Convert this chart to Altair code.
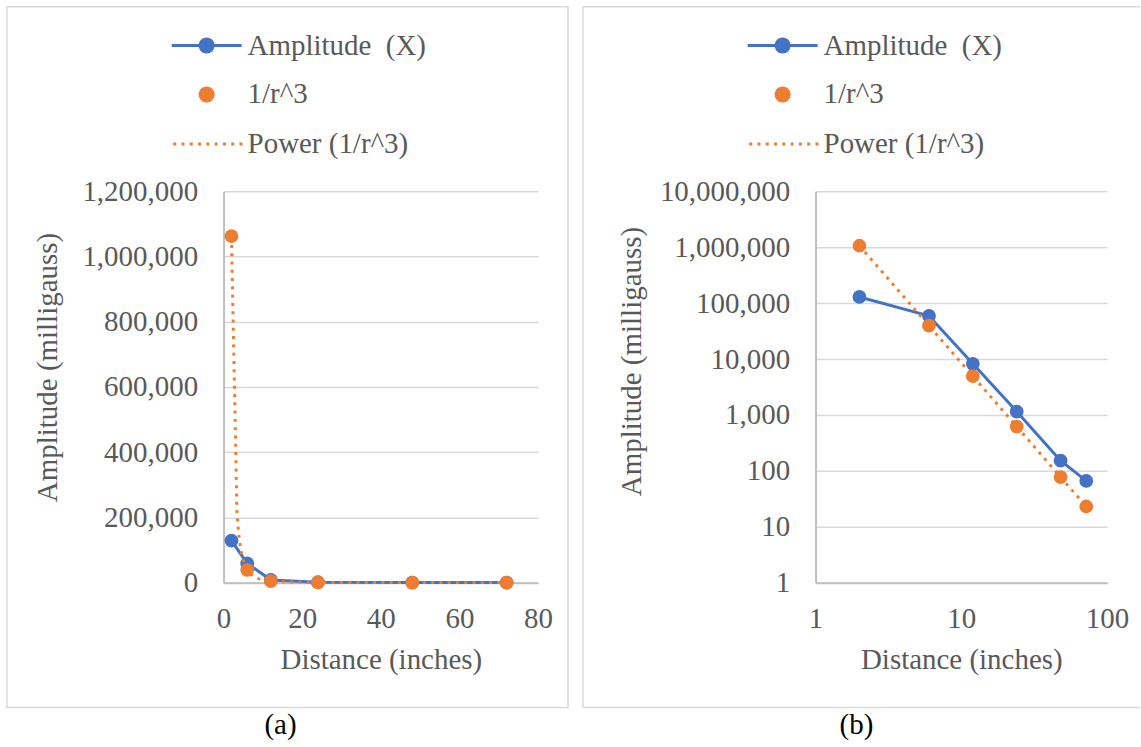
import altair as alt
import pandas as pd

# ---- data ----
distance = [2, 6, 12, 24, 48, 72]
amplitude_x = [129000, 59000, 8200, 1150, 152, 66]
inv_r3 = [1062500, 39400, 4920, 615, 77, 23]

lin_y_ticks = [0, 200000, 400000, 600000, 800000, 1000000, 1200000]
lin_x_ticks = [0, 20, 40, 60, 80]
log_y_ticks = [1, 10, 100, 1000, 10000, 100000, 1000000, 10000000]
log_x_ticks = [1, 10, 100]

LAB1 = "Amplitude\u00a0 (X)"
LAB2 = "1/r^3"
LAB3 = "Power (1/r^3)"

BLUE = "#4472C4"
ORANGE = "#ED7D31"
TEXT = "#595959"
GRID = "#D9D9D9"
AXISC = "#BFBFBF"
BORDER = "#D9D9D9"
FONT = "Liberation Serif"
FS = 29

df = pd.DataFrame({"x": distance, "amp": amplitude_x, "inv": inv_r3})
df["s1"] = LAB1
df["s2"] = LAB2
one = pd.DataFrame({"k": [0]})

AMP_SYM = ("M-1,-0.043H1V0.043H-1Z "
           "M0.229,0A0.229,0.229,0,1,1,-0.229,0A0.229,0.229,0,1,1,0.229,0Z")
DOT_SYM = "M0.229,0A0.229,0.229,0,1,1,-0.229,0A0.229,0.229,0,1,1,0.229,0Z"
LINE_SYM = "M-1,0H1"
DASH = [3, 5.3]


def legend(lx, ly, stype, offset, **kw):
    return alt.Legend(orient="none", legendX=lx, legendY=ly, title=None,
                      symbolType=stype, symbolSize=4900, padding=0,
                      labelFont=FONT, labelFontSize=FS, labelColor=TEXT,
                      labelOffset=offset, labelLimit=500, **kw)


def panel(log, width, lx, border_layers, caption, cap_x, ytx, yty):
    if log:
        xscale = alt.Scale(type="log", domain=[1, 100])
        yscale = alt.Scale(type="log", domain=[1, 10000000])
        xt, yt = log_x_ticks, log_y_ticks
    else:
        xscale = alt.Scale(domain=[0, 80], nice=False)
        yscale = alt.Scale(domain=[0, 1200000], nice=False)
        xt, yt = lin_x_ticks, lin_y_ticks
    xaxis = alt.Axis(values=xt, format=",.0f", title="Distance (inches)",
                     titleY=86, titleBaseline="alphabetic",
                     labelPadding=22, labelFlush=False, labelOverlap=False,
                     grid=False)
    yaxis = alt.Axis(values=yt, format=",.0f", title="Amplitude (milligauss)",
                     titleX=ytx, titleY=yty, titleAngle=270,
                     titleAlign="center", titleBaseline="alphabetic",
                     labelPadding=26, labelFlush=False, labelOverlap=False,
                     grid=True)
    X = alt.X("x:Q", scale=xscale, axis=xaxis)

    base = alt.Chart(df)
    line = base.mark_line(color=BLUE, strokeWidth=3, strokeJoin="round",
                          strokeCap="round").encode(
        x=X, y=alt.Y("amp:Q", scale=yscale, axis=yaxis))
    bpts = base.mark_circle(size=190, opacity=1).encode(
        x=X, y=alt.Y("amp:Q", scale=yscale, axis=yaxis),
        color=alt.Color("s1:N", scale=alt.Scale(domain=[LAB1], range=[BLUE]),
                        legend=legend(lx, -181, AMP_SYM, 6,
                                      symbolStrokeWidth=0)))
    opts = base.mark_circle(size=190, opacity=1).encode(
        x=X, y=alt.Y("inv:Q", scale=yscale, axis=yaxis),
        fill=alt.Fill("s2:N", scale=alt.Scale(domain=[LAB2], range=[ORANGE]),
                      legend=legend(lx, -132, DOT_SYM, 6,
                                    symbolStrokeWidth=0)))
    trend = base.transform_regression(
        "x", "inv", method="pow", extent=[2, 72]
    ).transform_calculate(s3=f"'{LAB3}'").mark_line(
        strokeWidth=3, strokeDash=DASH).encode(
        x=X, y=alt.Y("inv:Q", scale=yscale, axis=yaxis),
        stroke=alt.Stroke("s3:N", scale=alt.Scale(domain=[LAB3], range=[ORANGE]),
                          legend=legend(lx, -84, LINE_SYM, 3,
                                        symbolStrokeWidth=3, symbolDash=DASH,
                                        symbolStrokeColor=ORANGE,
                                        symbolFillColor="transparent")))
    cap = alt.Chart(one).mark_text(
        text=caption, font=FONT, fontSize=FS, color="black",
        align="center", baseline="alphabetic").encode(
        x=alt.value(cap_x), y=alt.value(544))

    return alt.layer(*border_layers, line, bpts, opts, trend, cap).properties(
        width=width, height=392)


# panel borders (decoration)
border_a = [alt.Chart(one).mark_rect(fillOpacity=0, stroke=BORDER, strokeWidth=1.5).encode(
    x=alt.value(-217), x2=alt.value(345), y=alt.value(-185), y2=alt.value(517))]
border_b = [
    alt.Chart(one).mark_rule(color=BORDER, strokeWidth=1.5).encode(
        x=alt.value(-233), x2=alt.value(325), y=alt.value(-185)),
    alt.Chart(one).mark_rule(color=BORDER, strokeWidth=1.5).encode(
        x=alt.value(-233), y=alt.value(-185), y2=alt.value(517)),
    alt.Chart(one).mark_rule(color=BORDER, strokeWidth=1.5).encode(
        x=alt.value(-233), x2=alt.value(325), y=alt.value(517)),
]

pa = panel(False, 315, -52, border_a, "(a)", 57, -167, 176)
pb = panel(True, 292, -68, border_b, "(b)", 41, -175, 170)

chart = alt.hconcat(pa, pb, spacing=13).resolve_scale(
    x="independent", y="independent", color="independent",
    fill="independent", stroke="independent"
).resolve_legend(
    color="independent", fill="independent", stroke="independent"
).properties(
    padding={"left": 6, "top": 5, "right": 0, "bottom": 0},
    background="white"
).configure_view(strokeWidth=0).configure_axis(
    labelFont=FONT, labelFontSize=FS, labelColor=TEXT,
    titleFont=FONT, titleFontSize=FS, titleColor=TEXT, titleFontWeight="normal",
    domainColor=AXISC, domainWidth=2, gridColor=GRID, gridWidth=1.5,
    ticks=False
)

chart.save("out.html", embed_options={"renderer": "svg", "actions": False})
